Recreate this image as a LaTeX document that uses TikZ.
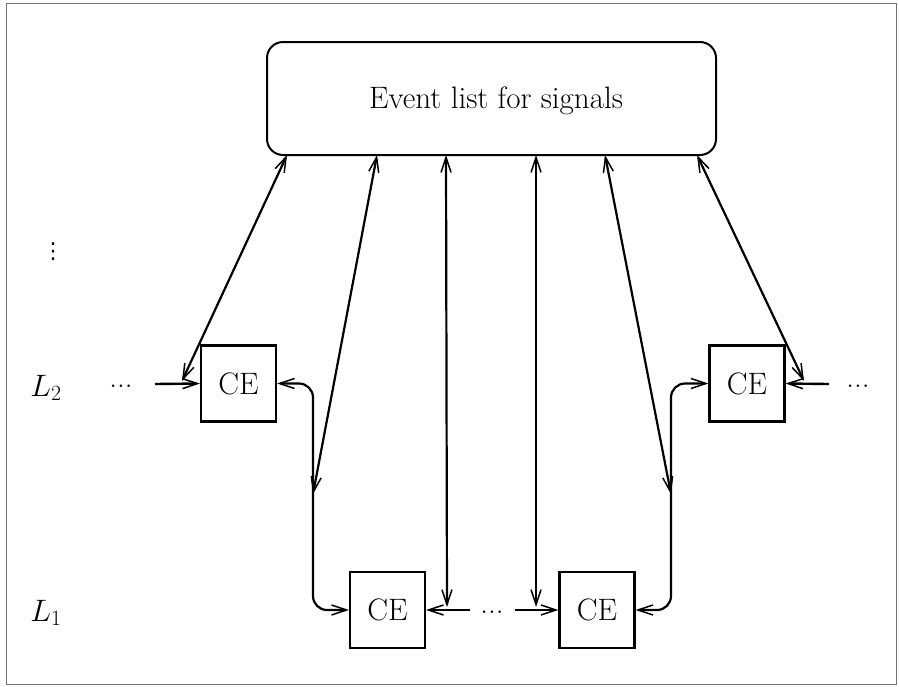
\RequirePackage{fix-cm}
\documentclass[tikz,border=0pt]{standalone}
\usepackage{fontspec}
\newfontfamily\dejavu{DejaVu Sans}
\usetikzlibrary{arrows.meta}
\begin{document}
\begin{tikzpicture}[x=1pt,y=-1pt,
  every node/.style={font=\fontsize{31}{37}\selectfont},
  evbox/.style={draw,line width=2pt,rounded corners=16pt,minimum width=449pt,minimum height=113pt,inner sep=0pt},
  cebox/.style={draw,line width=2.3pt,minimum width=75pt,minimum height=76pt,inner sep=0pt},
  conn/.style={line width=2.2pt,arrows={Straight Barb[length=15pt,width=10pt,line width=1.5pt]-Straight Barb[length=15pt,width=10pt,line width=1.5pt]}},
  inl/.style={line width=2.4pt,arrows={-Straight Barb[length=15pt,width=10pt,line width=1.5pt]}},
  lbl/.style={inner sep=0pt}]
\useasboundingbox (0,0) rectangle (899,686);
\draw[black!55,line width=0.9pt] (6,3) rectangle (896,684);

% nodes
\node[evbox] (ev) at (491.5,98.5) {};
\node[lbl] (evt) at (496,101) {Event list for signals};
\node[cebox] (ce2l) at (238.5,383.5) {CE};
\node[cebox] (ce2r) at (747,383.5) {CE};
\node[cebox] (ce1a) at (387.5,610) {CE};
\node[cebox] (ce1b) at (597,610) {CE};

% labels
\node[lbl] (l2) at (46,388) {$L_2$};
\node[lbl] (l1) at (46,613) {$L_1$};
\node[lbl,font=\dejavu\fontsize{22}{26}\selectfont] (vd) at (53,252) {⋮};
\node[lbl] (d2l) at (121,386) {...};
\node[lbl] (d2r) at (858,386) {...};
\node[lbl] (d1) at (492,612) {...};

% coordinates on event box bottom
\coordinate (t1) at (287,155);
\coordinate (t2) at (377,155);
\coordinate (t3) at (446,155);
\coordinate (t4) at (536,155);
\coordinate (t5) at (605,155);
\coordinate (t6) at (697,155);

% free ends
\coordinate (s2l) at (155,384);
\coordinate (s2r) at (829,384);
\coordinate (s1a) at (470,610);
\coordinate (s1b) at (515,610);
\coordinate (p1) at (182,381);
\coordinate (p6) at (804,381);
\coordinate (p2) at (313,494);
\coordinate (p5) at (671,494);
\coordinate (p3) at (447,607);
\coordinate (p4) at (536,607);

% input lines
\draw[inl] (s2l) -- (ce2l.west);
\draw[inl] (s2r) -- (ce2r.east);
\draw[inl] (s1a) -- (ce1a.east);
\draw[inl] (s1b) -- (ce1b.west);

% level connections
\draw[conn,rounded corners=14pt] (ce2l.east) -- (313,383.5) -- (313,610) -- (ce1a.west);
\draw[conn,rounded corners=14pt] (ce2r.west) -- (671,383.5) -- (671,610) -- (ce1b.east);

% connections to event list
\draw[conn] (t1) -- (p1);
\draw[conn] (t2) -- (p2);
\draw[conn] (t3) -- (p3);
\draw[conn] (t4) -- (p4);
\draw[conn] (t5) -- (p5);
\draw[conn] (t6) -- (p6);
\end{tikzpicture}
\end{document}
